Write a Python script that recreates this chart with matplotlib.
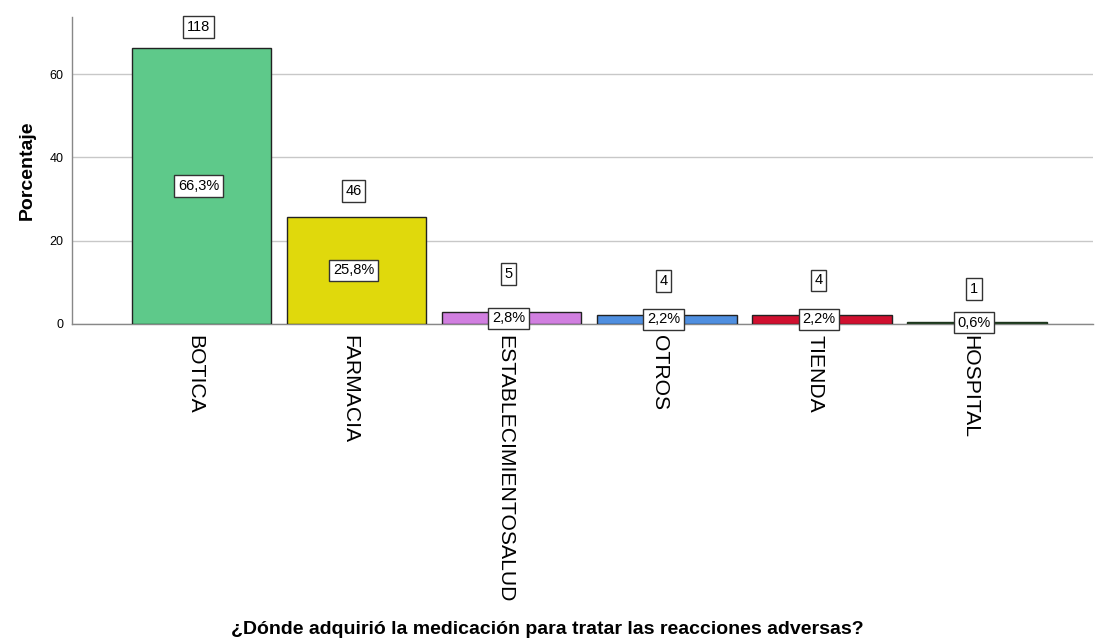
import matplotlib
matplotlib.use("Agg")
import matplotlib.pyplot as plt
from matplotlib.transforms import ScaledTranslation

# Data
categories = ["BOTICA", "FARMACIA", "ESTABLECIMIENTOSALUD", "OTROS", "TIENDA", "HOSPITAL"]
counts = [118, 46, 5, 4, 4, 1]
percents = [66.3, 25.8, 2.8, 2.2, 2.2, 0.6]
pct_labels = ["66,3%", "25,8%", "2,8%", "2,2%", "2,2%", "0,6%"]
colors = ["#5ec98a", "#e0d90c", "#d17fe0", "#4f8fe0", "#d0102f", "#2b4f2b"]
yticks = [0, 20, 40, 60]
title = "¿Dónde adquirió la medicación para tratar las reacciones adversas?"
ylabel = "Porcentaje"

# Layout (label positions, in data units, as placed in the original)
count_label_y = [71.3, 31.9, 12.0, 10.3, 10.5, 8.4]
pct_label_y = [p / 2 for p in percents]

plt.rcParams['font.family'] = ['Liberation Sans', 'DejaVu Sans']

fig = plt.figure(figsize=(10.95, 6.39), dpi=100)
ax = fig.add_axes([72 / 1095, 1 - 324 / 639, (1093 - 72) / 1095, (324 - 17) / 639])

x = list(range(len(categories)))
edgecols = ["#222222"] * 5 + ["#1e351e"]
ax.bar(x, percents, width=0.90, color=colors, edgecolor=edgecols, linewidth=1.0, zorder=3)

ax.set_xlim(-0.835, 5.748)
ax.set_ylim(0, 73.7)
ax.set_yticks(yticks)
ax.set_yticklabels([str(t) for t in yticks], fontsize=9)
ax.yaxis.grid(True, color="#c8c8c8", linewidth=1.0, zorder=0)
ax.set_axisbelow(True)

ax.set_xticks(x)
ax.set_xticklabels(categories, rotation=270, fontsize=15.2, ha="center", va="top")
ax.tick_params(axis="x", length=0, pad=8)
ax.tick_params(axis="y", length=0, pad=6)
shift = ScaledTranslation(-7 / 100, 0, fig.dpi_scale_trans)
for lbl in ax.get_xticklabels():
    lbl.set_transform(lbl.get_transform() + shift)

for s in ["top", "right"]:
    ax.spines[s].set_visible(False)
for s in ["left", "bottom"]:
    ax.spines[s].set_color("#888888")
    ax.spines[s].set_linewidth(1.0)
ax.spines["bottom"].set_zorder(2)

box = dict(boxstyle="square,pad=0.25", facecolor="white", edgecolor="#333333", linewidth=1.0)
for xi, c, cy in zip(x, counts, count_label_y):
    ax.text(xi - 0.02, cy, str(c), ha="center", va="center", fontsize=10.5, bbox=box, zorder=5)
for xi, pl, py in zip(x, pct_labels, pct_label_y):
    ax.text(xi - 0.02, py, pl, ha="center", va="center", fontsize=10.5, bbox=box, zorder=5)

ax.set_ylabel(ylabel, fontsize=14, fontweight="bold", labelpad=10)

fig.text(0.5, 5 / 639, title, ha="center", va="baseline", fontsize=14, fontweight="bold")

fig.savefig("out.png", dpi=100)
